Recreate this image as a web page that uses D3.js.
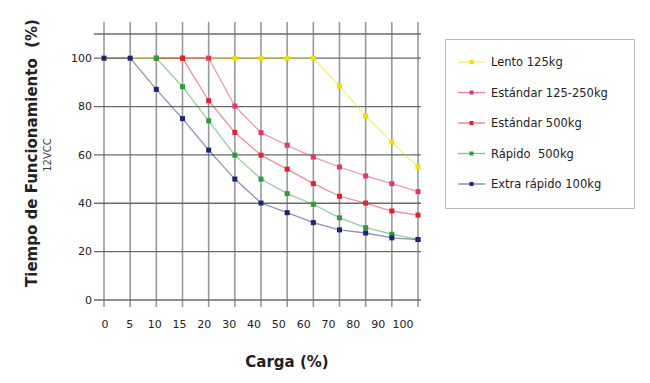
<!DOCTYPE html>
<html>
<head>
<meta charset="utf-8">
<script src="https://cdn.jsdelivr.net/npm/d3@7"></script>
<style>
  body { margin: 0; background: #fff; }
  text { font-family: "DejaVu Sans", Verdana, sans-serif; fill: #222; }
</style>
</head>
<body>
<div id="chart"></div>
<script>
// Data
// ------------------------------------------------------------------
const cargaLabels = ["0", "5", "10", "15", "20", "30", "40", "50", "60", "70", "80", "90", "100"]
const yTicks = [0, 20, 40, 60, 80, 100]

// one value per carga column, null where the series has no point
const lento      = [100, 100, 100, 100, 100, 100, 100, 100, 100, 88.5, 76, 65.3, 55]
const estandar250 = [null, null, null, 100, 100, 80.2, 69.2, 64, 59.1, 55, 51.3, 48.1, 44.8]
const estandar500 = [null, null, 100, 100, 82.4, 69.3, 59.9, 54.1, 48.1, 42.9, 40.1, 36.8, 35.1]
const rapido     = [null, null, 100, 88.2, 74.1, 59.9, 50, 44, 39.6, 34, 29.9, 27.2, 25]
const extra      = [100, 100, 87.1, 75, 62, 50, 40.1, 36.1, 32, 29, 27.7, 25.7, 25]

const seriesNames = ["Lento 125kg", "Estándar 125-250kg", "Estándar 500kg", "Rápido  500kg", "Extra rápido 100kg"]
const seriesValues = [lento, estandar250, estandar500, rapido, extra]
const seriesColours = ["#efe000", "#e6336e", "#e2202f", "#2c9c3c", "#1c2478"]

// Chart
// ------------------------------------------------------------------
const width = 650, height = 383

const svg = d3.select("#chart").append("svg")
    .attr("width", width)
    .attr("height", height)

const x = d3.scalePoint()
    .domain(d3.range(cargaLabels.length))
    .range([104, 418])

// labels in the original sit a little off the grid columns
const xLabel = d3.scalePoint()
    .domain(d3.range(cargaLabels.length))
    .range([105, 403])

const y = d3.scaleLinear()
    .domain([0, 110])
    .range([300, 34])

// grid
const gGrid = svg.append("g").attr("id", "grid")

gGrid.selectAll(".vline")
    .data(x.domain())
    .join("line")
    .attr("class", "vline")
    .attr("x1", d => x(d)).attr("x2", d => x(d))
    .attr("y1", 22).attr("y2", 307)
    .style("stroke", "#9a9a9a")
    .style("stroke-width", 1.6)

gGrid.selectAll(".hline")
    .data([0, 20, 40, 60, 80, 100, 110])
    .join("line")
    .attr("class", "hline")
    .attr("x1", 94).attr("x2", 421)
    .attr("y1", d => y(d)).attr("y2", d => y(d))
    .style("stroke", "#6a6a6a")
    .style("stroke-width", 1.3)

// y tick labels
svg.append("g").selectAll("text")
    .data(yTicks)
    .join("text")
    .attr("x", 92)
    .attr("y", d => y(d))
    .attr("dy", "0.35em")
    .attr("text-anchor", "end")
    .style("font-size", "11px")
    .text(d => d)

// x tick labels
svg.append("g").selectAll("text")
    .data(x.domain())
    .join("text")
    .attr("x", d => xLabel(d))
    .attr("y", 328)
    .attr("text-anchor", "middle")
    .style("font-size", "11px")
    .text(d => cargaLabels[d])

// axis titles
svg.append("text")
    .attr("x", 287)
    .attr("y", 367)
    .attr("text-anchor", "middle")
    .style("font-size", "15px")
    .style("font-weight", "bold")
    .text("Carga (%)")

svg.append("text")
    .attr("transform", "translate(37,153) rotate(-90)")
    .attr("text-anchor", "middle")
    .style("font-size", "15px")
    .style("font-weight", "bold")
    .style("white-space", "pre")
    .text("Tiempo de Funcionamiento  (%)")

svg.append("text")
    .attr("transform", "translate(51,155) rotate(-90)")
    .attr("text-anchor", "middle")
    .style("font-size", "10px")
    .style("fill", "#444")
    .text("12VCC")

// series
const line = d3.line()
    .defined(d => d != null)
    .x((d, i) => x(i))
    .y(d => y(d))

const gSeries = svg.append("g").attr("id", "series")

seriesValues.forEach((vals, s) => {
    const colour = seriesColours[s]
    gSeries.append("path")
        .datum(vals)
        .attr("d", line)
        .style("fill", "none")
        .style("stroke", colour)
        .style("stroke-opacity", 0.5)
        .style("stroke-width", 1.3)

    const pts = vals.map((v, i) => ({ i, v })).filter(d => d.v != null)
    gSeries.append("g").selectAll("rect")
        .data(pts)
        .join("rect")
        .attr("x", d => x(d.i) - 2.5)
        .attr("y", d => y(d.v) - 2.5)
        .attr("width", 5)
        .attr("height", 5)
        .style("fill", colour)
})

// legend
const gLegend = svg.append("g").attr("id", "legend")

gLegend.append("rect")
    .attr("x", 445.5).attr("y", 39.5)
    .attr("width", 189).attr("height", 169)
    .style("fill", "#fff")
    .style("stroke", "#b8b8b8")

const legendY = d3.scalePoint()
    .domain(d3.range(seriesNames.length))
    .range([62, 184])

const rows = gLegend.selectAll(".row")
    .data(seriesNames)
    .join("g")
    .attr("class", "row")
    .attr("transform", (d, i) => "translate(0," + legendY(i) + ")")

rows.append("line")
    .attr("x1", 458).attr("x2", 485)
    .style("stroke", (d, i) => seriesColours[i])
    .style("stroke-opacity", 0.6)
    .style("stroke-width", 1.3)

rows.append("rect")
    .attr("x", 469.5).attr("y", -2)
    .attr("width", 4).attr("height", 4)
    .style("fill", (d, i) => seriesColours[i])

rows.append("text")
    .attr("x", 491)
    .attr("dy", "0.35em")
    .style("font-size", "11.5px")
    .style("white-space", "pre")
    .text(d => d)
</script>
</body>
</html>
